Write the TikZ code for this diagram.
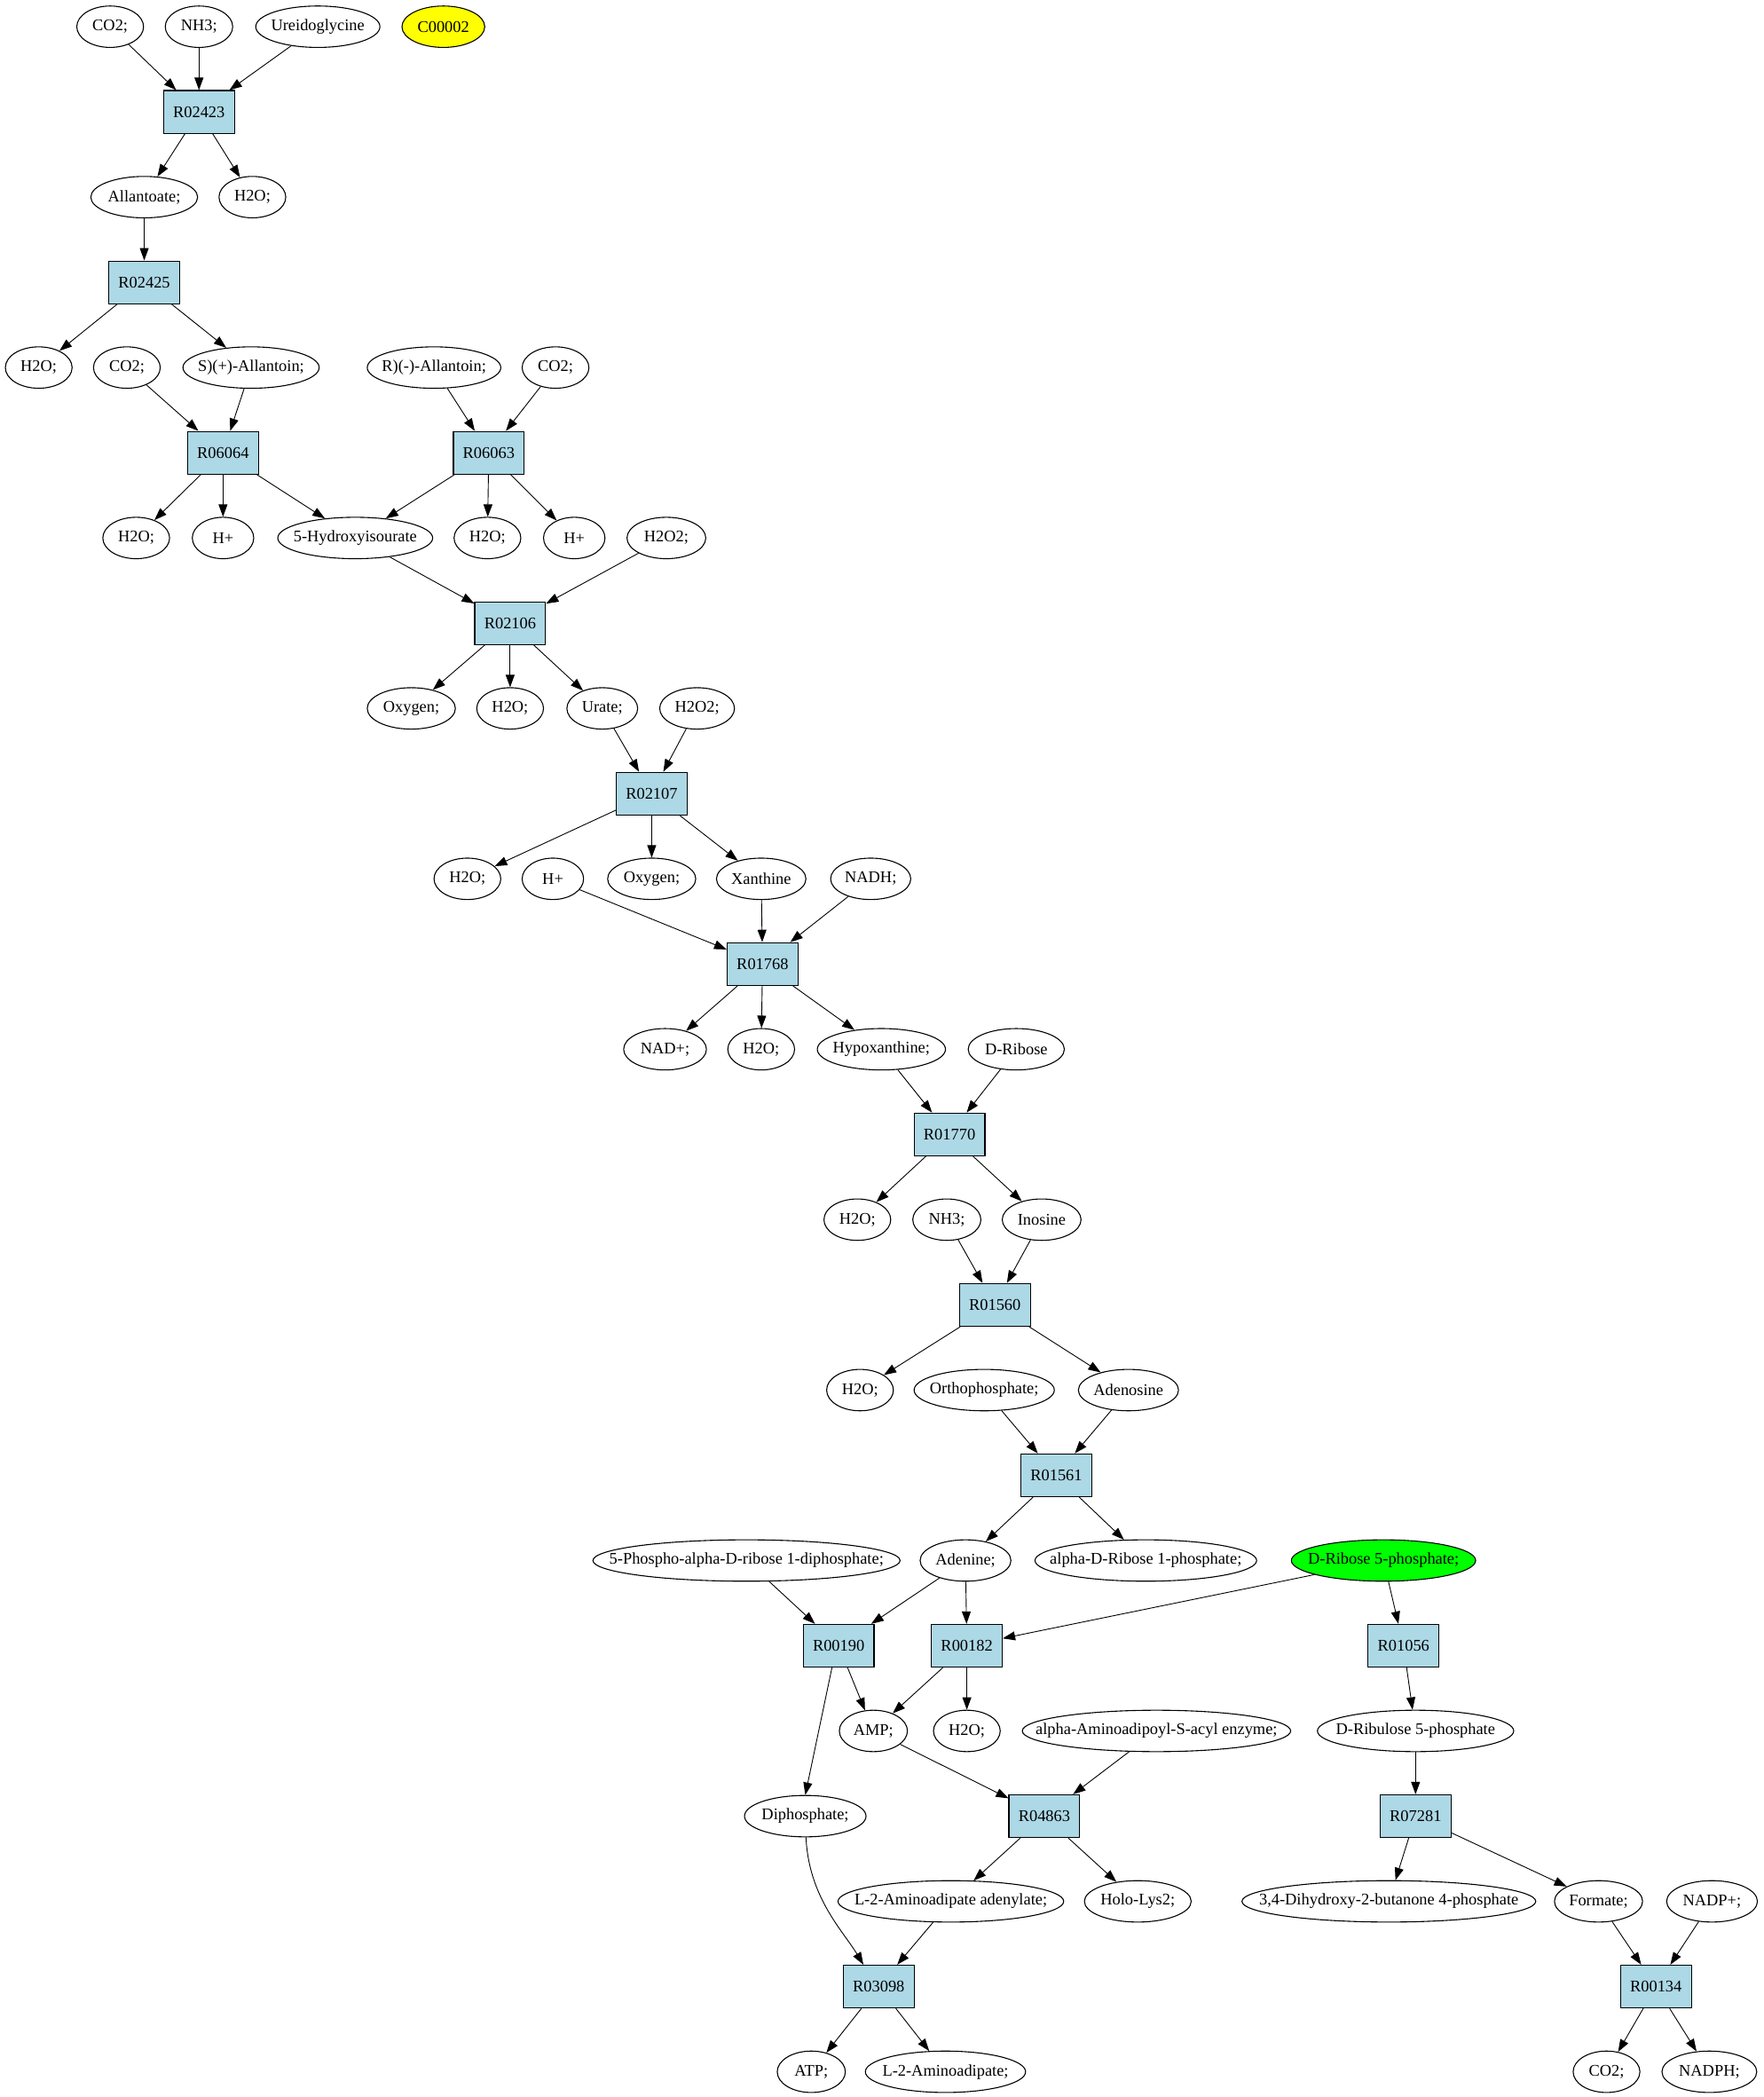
\documentclass[tikz,border=0pt]{standalone}
\usepackage{fontspec}
\setmainfont{Liberation Serif}
\usetikzlibrary{shapes.geometric,arrows.meta}
\definecolor{boxblue}{HTML}{ADD8E6}
\definecolor{metgreen}{HTML}{00FF00}
\definecolor{metyellow}{HTML}{FFFF00}
\newcommand\dpu{0.7525pt}
\newcommand\Met[5]{\node[met,minimum width=#4*\dpu] (#1) at (#2,#3) {\makebox[0pt]{#5}};}
\newcommand\Rx[3]{\node[rxn] (#1) at (#2,#3) {\makebox[0pt]{#1}};}
\tikzset{
  met/.style={ellipse, draw, line width=0.55pt, inner sep=0pt, minimum height=31*\dpu, font=\fontsize{9.2}{11}\selectfont},
  rxn/.style={rectangle, draw, fill=boxblue, line width=0.55pt, inner sep=0pt, minimum width=53*\dpu, minimum height=32*\dpu, font=\fontsize{9.2}{11}\selectfont},
  arr/.style={-{Triangle[length=7pt,width=5pt]}, line width=0.45pt}
}
\begin{document}
\begin{tikzpicture}[x=0.7525pt,y=-0.7525pt]
\useasboundingbox (0,0) rectangle (1320.3,1570.1);
% row 0: 20, step 63.8
\Met{co2a}{82.5}{20}{50}{CO2;}
\Met{nh3a}{149}{20}{50.5}{NH3;}
\Met{ureido}{238}{20}{93}{Ureidoglycine}
\node[met,fill=metyellow,minimum width=62*\dpu] (c2) at (332,20) {\makebox[0pt]{C00002}};
\Rx{R02423}{149}{83.8}
\Met{allant}{108}{147.6}{80}{Allantoate;}
\Met{h2oa}{189}{147.6}{50}{H2O;}
\Rx{R02425}{108}{211.4}
\Met{h2ob}{29}{275.2}{50}{H2O;}
\Met{co2b}{95}{275.2}{50}{CO2;}
\Met{sall}{188}{275.2}{102}{S)(+)-Allantoin;}
\Met{rall}{325}{275.2}{100}{R)(-)-Allantoin;}
\Met{co2c}{416}{275.2}{50}{CO2;}
\Rx{R06064}{167}{339}
\Rx{R06063}{366}{339}
\Met{h2oc}{102}{402.8}{50}{H2O;}
\Met{hpa}{167}{402.8}{46}{H+}
\Met{hiu}{266}{402.8}{116}{5-Hydroxyisourate}
\Met{h2od}{365}{402.8}{50}{H2O;}
\Met{hpb}{430}{402.8}{46}{H+}
\Met{h2o2a}{499}{402.8}{59}{H2O2;}
\Rx{R02106}{382}{466.6}
\Met{oxa}{308}{530.4}{66}{Oxygen;}
\Met{h2oe}{382}{530.4}{50}{H2O;}
\Met{urate}{451}{530.4}{53}{Urate;}
\Met{h2o2b}{522}{530.4}{56}{H2O2;}
\Rx{R02107}{488}{594.2}
\Met{h2of}{350}{658}{50}{H2O;}
\Met{hpc}{414}{658}{46}{H+}
\Met{oxb}{488}{658}{66}{Oxygen;}
\Met{xan}{570}{658}{67}{Xanthine}
\Met{nadh}{652}{658}{60}{NADH;}
\Rx{R01768}{571}{721.8}
\Met{nad}{498}{785.6}{62}{NAD+;}
\Met{h2og}{570}{785.6}{50}{H2O;}
\Met{hypo}{660}{785.6}{96}{Hypoxanthine;}
\Met{drib}{761}{785.6}{72}{D-Ribose}
\Rx{R01770}{711}{849.4}
\Met{h2oh}{642}{913.2}{50}{H2O;}
\Met{nh3b}{709}{913.2}{51}{NH3;}
\Met{inos}{780}{913.2}{59}{Inosine}
\Rx{R01560}{745}{977}
\Met{h2oi}{644}{1040.8}{50}{H2O;}
\Met{ortho}{737}{1040.8}{105}{Orthophosphate;}
\Met{adenos}{845}{1040.8}{75}{Adenosine}
\Rx{R01561}{791}{1104.6}
\Met{prpp}{559}{1168.4}{230}{5-Phospho-alpha-D-ribose 1-diphosphate;}
\Met{aden}{723}{1168.4}{68}{Adenine;}
\Met{ar1p}{858}{1168.4}{166}{alpha-D-Ribose 1-phosphate;}
\node[met,fill=metgreen,minimum width=138*\dpu] (r5p) at (1036,1168.4) {\makebox[0pt]{D-Ribose 5-phosphate;}};
\Rx{R00190}{628}{1232.2}
\Rx{R00182}{724}{1232.2}
\Rx{R01056}{1051}{1232.2}
\Met{amp}{654}{1296}{51}{AMP;}
\Met{h2oj}{724}{1296}{50}{H2O;}
\Met{aaacyl}{866}{1296}{201}{alpha-Aminoadipoyl-S-acyl enzyme;}
\Met{ru5p}{1060}{1296}{147}{D-Ribulose 5-phosphate}
\Met{dip}{603}{1359.8}{91}{Diphosphate;}
\Rx{R04863}{782}{1359.8}
\Rx{R07281}{1060}{1359.8}
\Met{aaaden}{712}{1423.6}{169}{L-2-Aminoadipate adenylate;}
\Met{holo}{852}{1423.6}{80}{Holo-Lys2;}
\Met{dhbp}{1040}{1423.6}{220}{3,4-Dihydroxy-2-butanone 4-phosphate}
\Met{form}{1197}{1423.6}{66}{Formate;}
\Met{nadp}{1282}{1423.6}{68}{NADP+;}
\Rx{R03098}{658}{1487.4}
\Rx{R00134}{1240}{1487.4}
\Met{atp}{607.5}{1551.2}{51}{ATP;}
\Met{l2aa}{708}{1551.2}{120}{L-2-Aminoadipate;}
\Met{co2d}{1203}{1551.2}{50}{CO2;}
\Met{nadph}{1280}{1551.2}{71}{NADPH;}
% edges
\draw[arr] (co2a) -- (R02423);
\draw[arr] (nh3a) -- (R02423);
\draw[arr] (ureido) -- (R02423);
\draw[arr] (R02423) -- (allant);
\draw[arr] (R02423) -- (h2oa);
\draw[arr] (allant) -- (R02425);
\draw[arr] (R02425) -- (h2ob);
\draw[arr] (R02425) -- (sall);
\draw[arr] (co2b) -- (R06064);
\draw[arr] (sall) -- (R06064);
\draw[arr] (rall) -- (R06063);
\draw[arr] (co2c) -- (R06063);
\draw[arr] (R06064) -- (h2oc);
\draw[arr] (R06064) -- (hpa);
\draw[arr] (R06064) -- (hiu);
\draw[arr] (R06063) -- (hiu);
\draw[arr] (R06063) -- (h2od);
\draw[arr] (R06063) -- (hpb);
\draw[arr] (hiu) -- (R02106);
\draw[arr] (h2o2a) -- (R02106);
\draw[arr] (R02106) -- (oxa);
\draw[arr] (R02106) -- (h2oe);
\draw[arr] (R02106) -- (urate);
\draw[arr] (urate) -- (R02107);
\draw[arr] (h2o2b) -- (R02107);
\draw[arr] (R02107) -- (h2of);
\draw[arr] (R02107) -- (oxb);
\draw[arr] (R02107) -- (xan);
\draw[arr] (hpc) -- (R01768);
\draw[arr] (xan) -- (R01768);
\draw[arr] (nadh) -- (R01768);
\draw[arr] (R01768) -- (nad);
\draw[arr] (R01768) -- (h2og);
\draw[arr] (R01768) -- (hypo);
\draw[arr] (hypo) -- (R01770);
\draw[arr] (drib) -- (R01770);
\draw[arr] (R01770) -- (h2oh);
\draw[arr] (R01770) -- (inos);
\draw[arr] (nh3b) -- (R01560);
\draw[arr] (inos) -- (R01560);
\draw[arr] (R01560) -- (h2oi);
\draw[arr] (R01560) -- (adenos);
\draw[arr] (ortho) -- (R01561);
\draw[arr] (adenos) -- (R01561);
\draw[arr] (R01561) -- (aden);
\draw[arr] (R01561) -- (ar1p);
\draw[arr] (prpp) -- (R00190);
\draw[arr] (aden) -- (R00190);
\draw[arr] (aden) -- (R00182);
\draw[arr] (r5p) -- (R00182);
\draw[arr] (r5p) -- (R01056);
\draw[arr] (R00190) -- (amp);
\draw[arr] (R00190.-107) -- (dip.north);
\draw[arr] (R00182) -- (amp);
\draw[arr] (R00182) -- (h2oj);
\draw[arr] (amp) -- (R04863);
\draw[arr] (aaacyl) -- (R04863);
\draw[arr] (R01056) -- (ru5p);
\draw[arr] (ru5p) -- (R07281);
\draw[arr] (R04863) -- (aaaden);
\draw[arr] (R04863) -- (holo);
\draw[arr] (R07281) -- (dhbp);
\draw[arr] (R07281) -- (form);
\draw[arr] (dip.-88) .. controls +(2,45) and +(-15,-25) .. (R03098.125);
\draw[arr] (aaaden) -- (R03098);
\draw[arr] (form) -- (R00134);
\draw[arr] (nadp) -- (R00134);
\draw[arr] (R03098) -- (atp);
\draw[arr] (R03098) -- (l2aa);
\draw[arr] (R00134) -- (co2d);
\draw[arr] (R00134) -- (nadph);
\end{tikzpicture}
\end{document}
